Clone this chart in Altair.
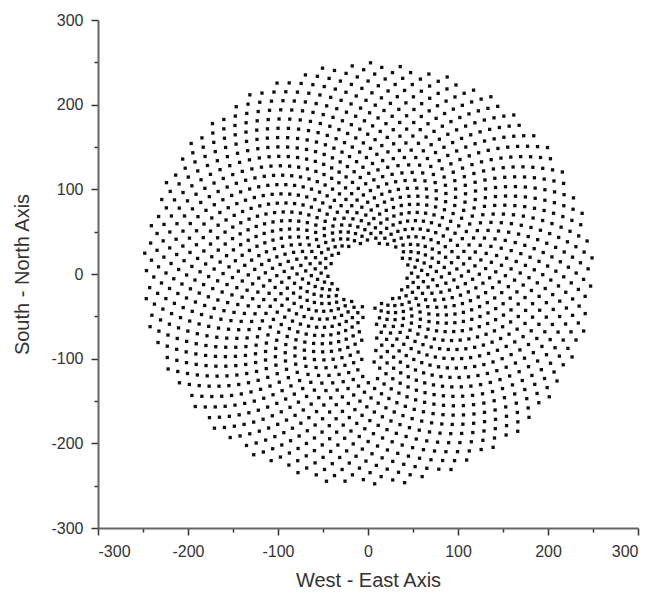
import numpy as np
import pandas as pd
import altair as alt

# Field layout parameters
n_heliostats = [1800]          # index count of the spiral
outer_radius = [250.0]         # outermost heliostat radius (m)
spiral_exponent = [0.65]       # radial growth exponent
golden_angle_deg = [137.508]   # divergence angle
hole_center = [1.0, 1.0]       # receiver clearing centre
hole_semi_axes = [41.0, 35.0]  # receiver clearing half-width / half-height
corridor_x = [-4.5, 5.5]       # south access corridor (x range)
corridor_y = [-125.0, 0.0]     # south access corridor (y range)

major_ticks = [-300, -200, -100, 0, 100, 200, 300]
minor_ticks = [-250, -150, -50, 50, 150, 250]

k = np.arange(1, n_heliostats[0] + 1)
a = outer_radius[0] / n_heliostats[0] ** spiral_exponent[0]
r = a * k ** spiral_exponent[0]
th = np.deg2rad(golden_angle_deg[0]) * k
x = r * np.cos(th)
y = r * np.sin(th)
keep = ((x - hole_center[0]) / hole_semi_axes[0]) ** 2 + ((y - hole_center[1]) / hole_semi_axes[1]) ** 2 > 1
keep &= ~((x > corridor_x[0]) & (x < corridor_x[1]) & (y > corridor_y[0]) & (y < corridor_y[1]))
df = pd.DataFrame({"x": x[keep], "y": y[keep]})

all_ticks = sorted(major_ticks + minor_ticks)
tick_size = {"condition": {"test": "datum.value % 100 === 0", "value": 7}, "value": 4}
lbl_expr = "datum.value % 100 === 0 ? toString(datum.value) : ''"

axis_common = dict(
    values=all_ticks, grid=False, domainColor="#666", domainWidth=2,
    tickColor="#333", tickWidth=1.5, tickSize=tick_size, labelExpr=lbl_expr,
    labelFont="Liberation Sans", labelFontSize=16, labelColor="#333",
    titleFont="Liberation Sans", titleFontSize=20, titleFontWeight="normal",
    titleColor="#333",
)

chart = alt.Chart(df).mark_square(size=11, color="#111", opacity=1).encode(
    x=alt.X("x:Q", scale=alt.Scale(domain=[-300, 300], nice=False),
            axis=alt.Axis(title="West - East Axis", titlePadding=11, labelPadding=8, **axis_common)),
    y=alt.Y("y:Q", scale=alt.Scale(domain=[-300, 300], nice=False),
            axis=alt.Axis(title="South - North Axis", titlePadding=18, labelPadding=8, **axis_common)),
).properties(
    width=540, height=508,
    autosize=alt.AutoSizeParams(type="none"),
    padding={"left": 90, "top": 12, "right": 8, "bottom": 65},
).configure_view(stroke=None)

chart.save("out.html", embed_options={"renderer": "svg", "actions": False})
